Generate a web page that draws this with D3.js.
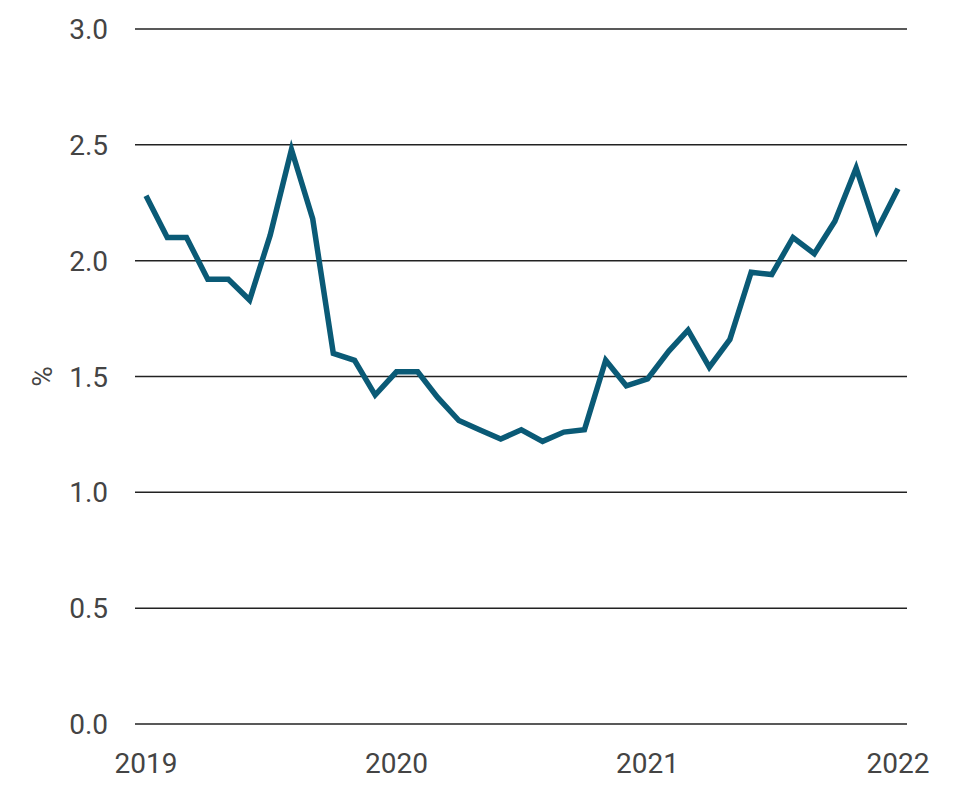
<!DOCTYPE html>
<html>
<head>
<meta charset="utf-8">
<script src="https://cdn.jsdelivr.net/npm/d3@7"></script>
<style>
  body { margin: 0; background: #fff; }
  text { font-family: Roboto, "Liberation Sans", sans-serif; fill: #444; }
</style>
</head>
<body>
<svg id="chart" width="960" height="790"></svg>
<script>
// monthly values, Jan 2019 .. Jan 2022
var startMonth = new Date(2019, 0, 1);
var values = [2.28, 2.10, 2.10, 1.92, 1.92, 1.83, 2.11, 2.48, 2.18, 1.60, 1.57, 1.42,
              1.52, 1.52, 1.41, 1.31, 1.27, 1.23, 1.27, 1.22, 1.26, 1.27, 1.57, 1.46,
              1.49, 1.61, 1.70, 1.54, 1.66, 1.95, 1.94, 2.10, 2.03, 2.17, 2.40, 2.13,
              2.31];
var yTicks = [0, 0.5, 1.0, 1.5, 2.0, 2.5, 3.0];
var xTickYears = [2019, 2020, 2021, 2022];
var yLabel = '%';

var data = values.map(function(v, i) {
  return { date: d3.timeMonth.offset(startMonth, i), value: v };
});

var svg = d3.select('#chart');
var plotLeft = 135, plotRight = 907, plotTop = 29, plotBottom = 724;

var x = d3.scaleTime()
  .domain([new Date(2019, 0, 1), new Date(2022, 0, 1)])
  .range([146, 898]);
var y = d3.scaleLinear().domain([0, 3]).range([plotBottom, plotTop]);

// gridlines
svg.append('g').selectAll('line')
  .data(yTicks)
  .enter().append('line')
  .attr('x1', plotLeft).attr('x2', plotRight)
  .attr('y1', function(d) { return y(d); })
  .attr('y2', function(d) { return y(d); })
  .attr('stroke', '#222')
  .attr('stroke-width', 1.5);

// y tick labels
svg.append('g').selectAll('text')
  .data(yTicks)
  .enter().append('text')
  .attr('x', 108)
  .attr('y', function(d) { return y(d); })
  .attr('dy', '0.36em')
  .attr('text-anchor', 'end')
  .style('font-size', '28px')
  .text(function(d) { return d3.format('.1f')(d); });

// x tick labels
svg.append('g').selectAll('text')
  .data(xTickYears)
  .enter().append('text')
  .attr('x', function(d) { return x(new Date(d, 0, 1)); })
  .attr('y', 773)
  .attr('text-anchor', 'middle')
  .style('font-size', '28px')
  .text(function(d) { return d; });

// y axis title
svg.append('text')
  .attr('transform', 'translate(52,' + y(1.5) + ') rotate(-90)')
  .attr('text-anchor', 'middle')
  .style('font-size', '28px')
  .text(yLabel);

var line = d3.line()
  .x(function(d) { return x(d.date); })
  .y(function(d) { return y(d.value); });

svg.append('path')
  .datum(data)
  .attr('d', line)
  .attr('fill', 'none')
  .attr('stroke', '#0a5a76')
  .attr('stroke-width', 5.5)
  .attr('stroke-linejoin', 'miter');
</script>
</body>
</html>
